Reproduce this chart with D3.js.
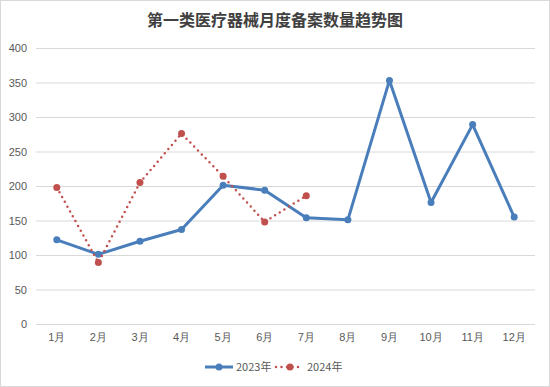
<!DOCTYPE html>
<html>
<head>
<meta charset="utf-8">
<script src="https://cdn.jsdelivr.net/npm/d3@7"></script>
<style>
  body { margin: 0; background: #fff; }
  svg { display: block; font-family: "Noto Sans CJK SC", "DejaVu Sans", sans-serif; }
</style>
</head>
<body>
<div id="chart"></div>
<script>
const months = ['1月', '2月', '3月', '4月', '5月', '6月', '7月', '8月', '9月', '10月', '11月', '12月'];
const values2023 = [122, 101, 120, 137, 201, 194, 154, 151, 353, 176, 289, 155];
const values2024 = [198, 89, 205, 276, 214, 148, 186];
const yTicks = [0, 50, 100, 150, 200, 250, 300, 350, 400];

const width = 550;
const height = 387;
const margin = { top: 48, right: 15, bottom: 63, left: 36 };

const svg = d3.select('#chart')
  .append('svg')
  .attr('width', width)
  .attr('height', height);

// outer border
svg.append('rect')
  .attr('x', 0.5).attr('y', 0.5)
  .attr('width', width - 1).attr('height', height - 1)
  .attr('fill', '#fff')
  .attr('stroke', '#d9d9d9');

svg.append('text')
  .attr('x', width / 2)
  .attr('y', 26)
  .attr('text-anchor', 'middle')
  .attr('font-size', 16)
  .attr('font-weight', 'bold')
  .attr('fill', '#404040')
  .text('第一类医疗器械月度备案数量趋势图');

const xScale = d3.scaleBand()
  .domain(months)
  .range([margin.left, width - margin.right]);

const yScale = d3.scaleLinear()
  .domain([0, 400])
  .range([height - margin.bottom, margin.top]);

// gridlines
svg.append('g')
  .attr('transform', `translate(${margin.left}, 0)`)
  .call(d3.axisLeft(yScale).tickValues(yTicks).tickFormat('').tickSize(-(width - margin.left - margin.right)))
  .call((g) => g.select('.domain').remove())
  .call((g) => g.selectAll('line').attr('stroke', '#d9d9d9'));

// y labels
svg.append('g')
  .attr('transform', `translate(${margin.left}, 0)`)
  .call(d3.axisLeft(yScale).tickValues(yTicks).tickSize(0).tickPadding(9))
  .call((g) => g.select('.domain').remove())
  .call((g) => g.selectAll('text').attr('fill', '#595959').attr('font-size', 11).attr('font-family', 'Liberation Sans, sans-serif'));

// x labels
svg.append('g')
  .attr('transform', `translate(0, ${height - margin.bottom})`)
  .call(d3.axisBottom(xScale).tickSize(0).tickPadding(9))
  .call((g) => g.select('.domain').remove())
  .call((g) => g.selectAll('text').attr('fill', '#595959').attr('font-size', 11));

const cx = (i) => xScale(months[i]) + xScale.bandwidth() / 2;

const line = d3.line()
  .x((d, i) => cx(i))
  .y((d) => yScale(d));

// 2023 series
svg.append('path')
  .datum(values2023)
  .attr('fill', 'none')
  .attr('stroke', '#4a7ebb')
  .attr('stroke-width', 3)
  .attr('stroke-linejoin', 'round')
  .attr('d', line);

svg.append('g')
  .selectAll('circle')
  .data(values2023)
  .join('circle')
  .attr('cx', (d, i) => cx(i))
  .attr('cy', (d) => yScale(d))
  .attr('r', 3.5)
  .attr('fill', '#4a7ebb');

// 2024 series (dotted), drawn on top
svg.append('path')
  .datum(values2024)
  .attr('fill', 'none')
  .attr('stroke', '#c0504d')
  .attr('stroke-width', 2.5)
  .attr('stroke-dasharray', '0 5.5')
  .attr('stroke-linecap', 'round')
  .attr('d', line);

svg.append('g')
  .selectAll('circle')
  .data(values2024)
  .join('circle')
  .attr('cx', (d, i) => cx(i))
  .attr('cy', (d) => yScale(d))
  .attr('r', 3.5)
  .attr('fill', '#c0504d');

// legend
const legend = svg.append('g').attr('transform', 'translate(0, 367)');

legend.append('line')
  .attr('x1', 205).attr('x2', 233)
  .attr('stroke', '#4a7ebb').attr('stroke-width', 3);
legend.append('circle')
  .attr('cx', 219).attr('r', 3.5).attr('fill', '#4a7ebb');
legend.append('text')
  .attr('x', 236).attr('y', 4)
  .attr('font-size', 11).attr('fill', '#595959')
  .text('2023年');

legend.append('line')
  .attr('x1', 276).attr('x2', 302)
  .attr('stroke', '#c0504d').attr('stroke-width', 2.5)
  .attr('stroke-dasharray', '0 5.5')
  .attr('stroke-linecap', 'round');
legend.append('circle')
  .attr('cx', 290).attr('r', 3.5).attr('fill', '#c0504d');
legend.append('text')
  .attr('x', 307).attr('y', 4)
  .attr('font-size', 11).attr('fill', '#595959')
  .text('2024年');
</script>
</body>
</html>
